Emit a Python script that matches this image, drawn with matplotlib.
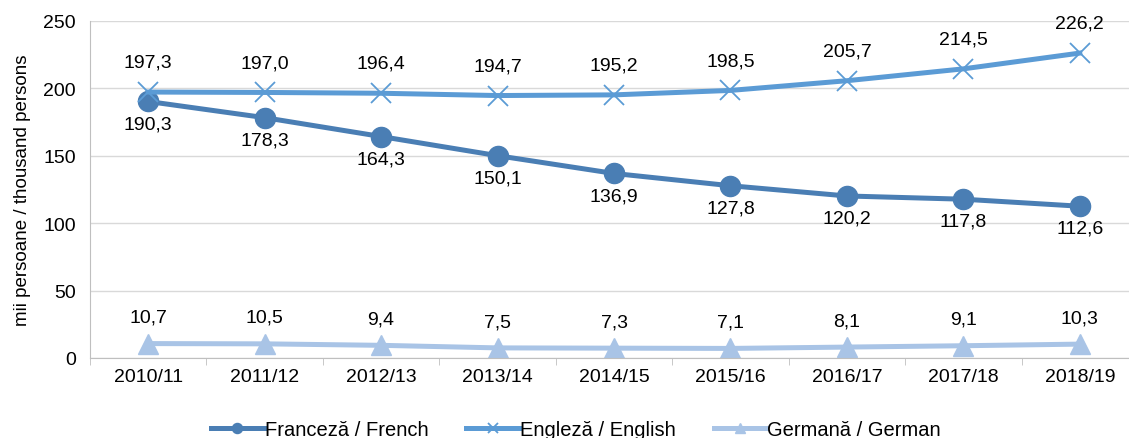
import matplotlib.pyplot as plt

plt.rcParams['font.family'] = ['Liberation Sans', 'DejaVu Sans']

# ---- DATOS ----
anos = ["2010/11", "2011/12", "2012/13", "2013/14", "2014/15",
        "2015/16", "2016/17", "2017/18", "2018/19"]
franceza = [190.3, 178.3, 164.3, 150.1, 136.9, 127.8, 120.2, 117.8, 112.6]
engleza = [197.3, 197.0, 196.4, 194.7, 195.2, 198.5, 205.7, 214.5, 226.2]
germana = [10.7, 10.5, 9.4, 7.5, 7.3, 7.1, 8.1, 9.1, 10.3]
etichete = ["Franceză / French", "Engleză / English", "Germană / German"]

c_fr = "#4a7eb4"
c_en = "#5b9bd5"
c_de = "#a9c4e6"
FS = 14

fig = plt.figure(figsize=(11.29, 4.39), dpi=100)
ax = fig.add_axes([90 / 1129, 1 - 359 / 439, 1048 / 1129, 337 / 439])

x = list(range(len(anos)))
ax.plot(x, franceza, color=c_fr, lw=3.6, marker='o', ms=14.5, label=etichete[0])
ax.plot(x, engleza, color=c_en, lw=3.6, marker='x', ms=14, mew=1.3, label=etichete[1])
ax.plot(x, germana, color=c_de, lw=3.6, marker='^', ms=14, label=etichete[2])


def fmt(v):
    return f"{v:.1f}".replace(".", ",")


# etichete: engleza deasupra, franceza dedesubt, germana deasupra
for i in x:
    ax.annotate(fmt(engleza[i]), (i, engleza[i]), xytext=(0, 21.5), textcoords='offset points',
                ha='center', va='center', fontsize=FS)
    ax.annotate(fmt(franceza[i]), (i, franceza[i]), xytext=(0, -16), textcoords='offset points',
                ha='center', va='center', fontsize=FS)
    ax.annotate(fmt(germana[i]), (i, germana[i]), xytext=(0, 19), textcoords='offset points',
                ha='center', va='center', fontsize=FS)

ax.set_xlim(-0.5, len(anos) - 0.5)
ax.set_ylim(0, 250)
ax.set_yticks(range(0, 251, 50))
ax.set_xticks(x)
ax.set_xticklabels(anos, fontsize=FS)
ax.set_xticks([i + 0.5 for i in range(-1, len(anos))], minor=True)
ax.tick_params(axis='x', which='major', length=0, pad=7)
ax.tick_params(axis='x', which='minor', length=5, color='#bfbfbf', direction='out')
ax.tick_params(axis='y', length=0, labelsize=FS, pad=10)
ax.set_ylabel("mii persoane / thousand persons", fontsize=13.5, labelpad=9)

ax.grid(axis='y', color='#d9d9d9', lw=1)
ax.set_axisbelow(True)
for s in ['top', 'right']:
    ax.spines[s].set_visible(False)
ax.spines['left'].set_color('#bfbfbf')
ax.spines['bottom'].set_color('#bfbfbf')

fig.legend(loc='center', bbox_to_anchor=(576 / 1129, 1 - 431 / 439), ncol=3, frameon=False,
           fontsize=14.5, handlelength=2.6, markerscale=0.5, columnspacing=1.9, handletextpad=0.05)

fig.savefig("out.png", dpi=100)
